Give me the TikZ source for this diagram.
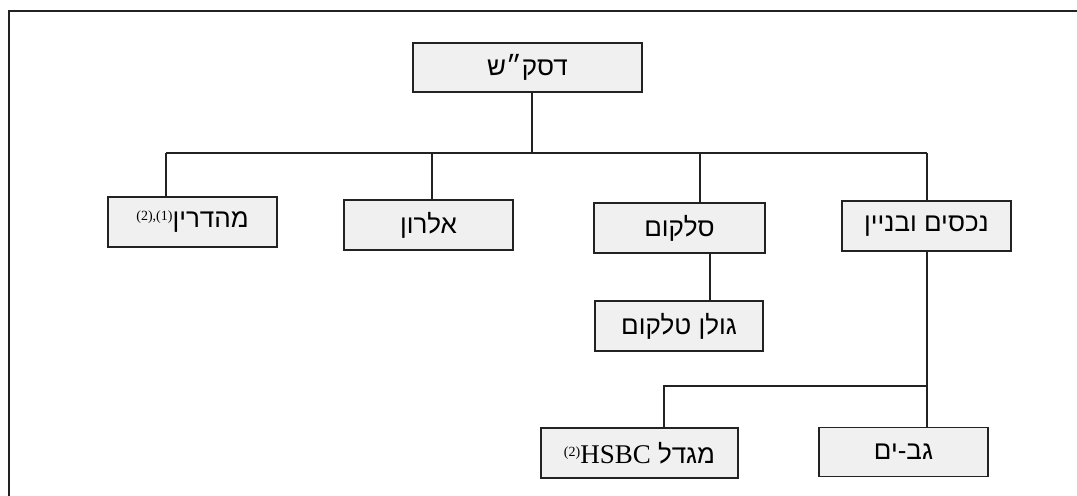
\documentclass[tikz,border=0pt]{standalone}
\usepackage{fontspec}
\setmainfont{Liberation Serif}
\newfontfamily\hebfont[Script=Hebrew]{Liberation Sans}
\TeXXeTstate=1
\definecolor{boxfill}{HTML}{F0F0F0}
\definecolor{edge}{HTML}{222222}
\begin{document}
\begin{tikzpicture}[x=0.5pt,y=-0.5pt,
  orgbox/.style={draw=edge,fill=boxfill,line width=0.8pt,minimum height=25pt,inner sep=0pt,font=\hebfont\fontsize{13}{15}\selectfont},
  conn/.style={draw=edge,line width=0.7pt}]
\useasboundingbox (0,0) rectangle (1077,496);
\draw[edge,line width=1pt] (9,496) -- (9,11) -- (1077,11);
\node[orgbox,minimum width=114.5pt,minimum height=24.5pt] (top) at (527.5,67.5) {\beginR דסק״ש\endR};
\node[orgbox,minimum width=84.5pt] (meh) at (192.5,222) {\beginL{\rmfamily\fontsize{7}{8}\selectfont\raisebox{1.1ex}{(2),(1)}}\beginR מהדרין\endR\endL};
\node[orgbox,minimum width=84.5pt] (alr) at (428.5,225) {\beginR אלרון\endR};
\node[orgbox,minimum width=85.5pt] (sel) at (679.5,228) {\beginR סלקום\endR};
\node[orgbox,minimum width=84.5pt] (nec) at (926.5,226) {\beginR נכסים ובניין\endR};
\node[orgbox,minimum width=84pt] (gol) at (679,326) {\beginR גולן טלקום\endR};
\node[orgbox,minimum width=98.5pt] (hsb) at (639.5,453) {\beginL{\rmfamily\fontsize{7}{8}\selectfont\raisebox{1.1ex}{(2)}}{\rmfamily\fontsize{13.5}{15}\selectfont HSBC} \beginR מגדל\endR\endL};
\node[orgbox,minimum width=84.5pt,minimum height=24.5pt] (gav) at (903.5,452) {\beginR גב-ים\endR};
\coordinate (t) at (532,153);
\coordinate (busL) at (166,153);
\coordinate (busR) at (927,153);
\coordinate (a) at (432,153);
\coordinate (s) at (700,153);
\coordinate (g) at (710,0);
\coordinate (n) at (927,386);
\coordinate (h) at (664,386);
\draw[conn] (top.south -| t) -- (t);
\draw[conn] (busL) -- (busR);
\draw[conn] (busL) -- (busL |- meh.north);
\draw[conn] (a) -- (a |- alr.north);
\draw[conn] (s) -- (s |- sel.north);
\draw[conn] (busR) -- (busR |- nec.north);
\draw[conn] (g |- sel.south) -- (g |- gol.north);
\draw[conn] (n |- nec.south) -- (n |- gav.north);
\draw[conn] (n) -- (h) -- (h |- hsb.north);
\end{tikzpicture}
\end{document}
